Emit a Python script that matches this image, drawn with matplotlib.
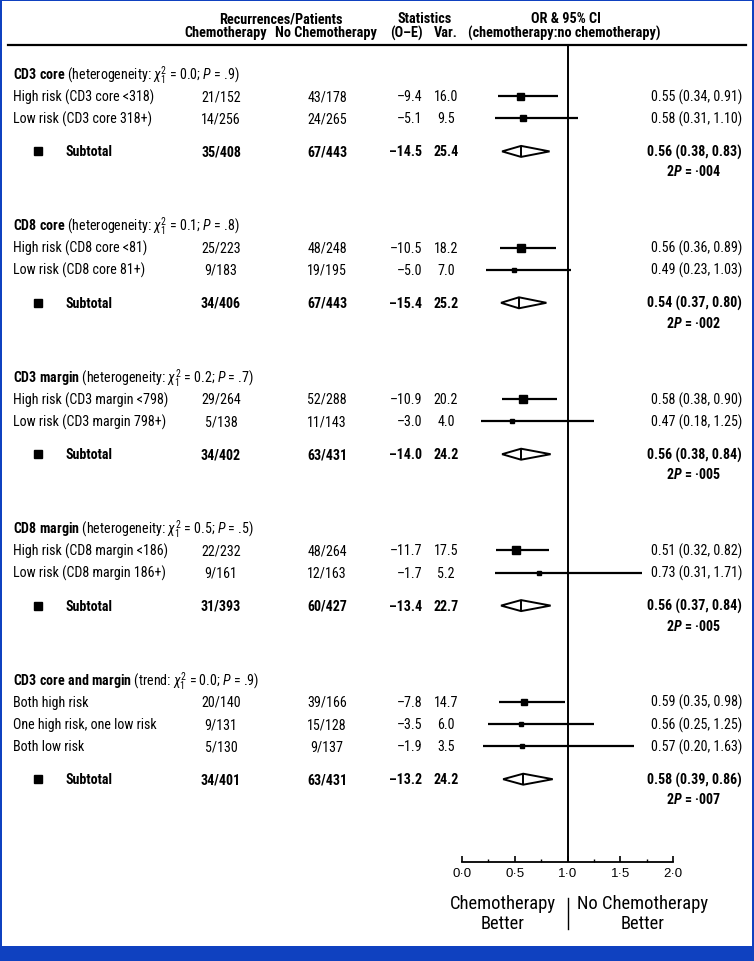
import matplotlib
matplotlib.use("Agg")
import matplotlib.pyplot as plt
from matplotlib import font_manager as fm
from matplotlib.transforms import blended_transform_factory
from matplotlib.lines import Line2D
from matplotlib.patches import Rectangle
import numpy as np

# ---------------- data ----------------
group_names = ["CD3 core", "CD8 core", "CD3 margin", "CD8 margin", "CD3 core and margin"]
group_tests = ["heterogeneity", "heterogeneity", "heterogeneity", "heterogeneity", "trend"]
group_chi2 = ["0.0", "0.1", "0.2", "0.5", "0.0"]
group_p = [".9", ".8", ".7", ".5", ".9"]

row_labels = [
    ["High risk (CD3 core <318)", "Low risk (CD3 core 318+)"],
    ["High risk (CD8 core <81)", "Low risk (CD8 core 81+)"],
    ["High risk (CD3 margin <798)", "Low risk (CD3 margin 798+)"],
    ["High risk (CD8 margin <186)", "Low risk (CD8 margin 186+)"],
    ["Both high risk", "One high risk, one low risk", "Both low risk"],
]
chemo = [["21/152", "14/256"], ["25/223", "9/183"], ["29/264", "5/138"],
         ["22/232", "9/161"], ["20/140", "9/131", "5/130"]]
nochemo = [["43/178", "24/265"], ["48/248", "19/195"], ["52/288", "11/143"],
           ["48/264", "12/163"], ["39/166", "15/128", "9/137"]]
o_e = [[-9.4, -5.1], [-10.5, -5.0], [-10.9, -3.0], [-11.7, -1.7], [-7.8, -3.5, -1.9]]
var = [[16.0, 9.5], [18.2, 7.0], [20.2, 4.0], [17.5, 5.2], [14.7, 6.0, 3.5]]
or_est = [[0.55, 0.58], [0.56, 0.49], [0.58, 0.47], [0.51, 0.73], [0.59, 0.56, 0.57]]
or_lo = [[0.34, 0.31], [0.36, 0.23], [0.38, 0.18], [0.32, 0.31], [0.35, 0.25, 0.20]]
or_hi = [[0.91, 1.10], [0.89, 1.03], [0.90, 1.25], [0.82, 1.71], [0.98, 1.25, 1.63]]

sub_chemo = ["35/408", "34/406", "34/402", "31/393", "34/401"]
sub_nochemo = ["67/443", "67/443", "63/431", "60/427", "63/431"]
sub_oe = [-14.5, -15.4, -14.0, -13.4, -13.2]
sub_var = [25.4, 25.2, 24.2, 22.7, 24.2]
sub_or = [0.56, 0.54, 0.56, 0.56, 0.58]
sub_lo = [0.38, 0.37, 0.38, 0.37, 0.39]
sub_hi = [0.83, 0.80, 0.84, 0.84, 0.86]
sub_p2 = ["·004", "·002", "·005", "·005", "·007"]

xticks = [0.0, 0.5, 1.0, 1.5, 2.0]
xticklabels = ["0·0", "0·5", "1·0", "1·5", "2·0"]

# ---------------- fonts ----------------
avail = {f.name for f in fm.fontManager.ttflist}
FONT = "DejaVu Sans"
for cand in ["Liberation Sans Narrow", "Roboto Condensed", "Liberation Sans"]:
    if cand in avail:
        FONT = cand
        break
TICKFONT = "Liberation Sans" if "Liberation Sans" in avail else FONT
plt.rcParams["font.family"] = [FONT, "DejaVu Sans"]
plt.rcParams["mathtext.fontset"] = "custom"
plt.rcParams["mathtext.rm"] = FONT
plt.rcParams["mathtext.it"] = FONT + ":italic"
plt.rcParams["mathtext.bf"] = FONT + ":bold"
if "mathtext.bfit" in plt.rcParams:
    plt.rcParams["mathtext.bfit"] = FONT + ":bold:italic"
    BFIT = True
else:
    BFIT = False

FS = 10.1
HFS = 10.3

W, H = 754, 962
fig = plt.figure(figsize=(W / 100, H / 100), dpi=100)
fig.patch.set_facecolor("white")

AX_TOP, AX_BOT = 46, 863
axf = fig.add_axes([462 / W, (H - AX_BOT) / H, 211 / W, (AX_BOT - AX_TOP) / H])
axf.set_xlim(0, 2)
axf.set_ylim(AX_BOT, AX_TOP)
axf.patch.set_alpha(0)
for s in ["top", "left", "right"]:
    axf.spines[s].set_visible(False)
axf.spines["bottom"].set_linewidth(1.3)
axf.set_yticks([])
axf.set_xticks(xticks)
axf.set_xticklabels(xticklabels)
for lab in axf.get_xticklabels():
    lab.set_fontsize(9.5)
    lab.set_family([TICKFONT, "DejaVu Sans"])
axf.set_xticks(np.arange(0.25, 2.0, 0.5), minor=True)
axf.tick_params(axis="x", which="major", direction="in", length=4.5, width=1.2, pad=3.5)
axf.tick_params(axis="x", which="minor", direction="in", length=2.5, width=1.0)
axf.axvline(1.0, color="black", lw=1.4, zorder=1)

tr = blended_transform_factory(fig.transFigure, axf.transData)


def T(px, y, s, **kw):
    kw.setdefault("fontsize", FS)
    kw.setdefault("va", "center")
    axf.text(px / W, y, s, transform=tr, clip_on=False, **kw)


# header
hy1, hy2 = 19, 33
T(281, hy1, "Recurrences/Patients", ha="center", fontweight="bold", fontsize=HFS)
T(226, hy2, "Chemotherapy", ha="center", fontweight="bold", fontsize=HFS)
T(326, hy2, "No Chemotherapy", ha="center", fontweight="bold", fontsize=HFS)
T(425, hy1, "Statistics", ha="center", fontweight="bold", fontsize=HFS)
T(423, hy2, "(O–E)", ha="right", fontweight="bold", fontsize=HFS)
T(446, hy2, "Var.", ha="center", fontweight="bold", fontsize=HFS)
T(566, hy1, "OR & 95% CI", ha="center", fontweight="bold", fontsize=HFS)
T(564, hy2, "(chemotherapy:no chemotherapy)", ha="center", fontweight="bold", fontsize=HFS)
fig.add_artist(Line2D([8 / W, 746 / W], [(H - 46) / H] * 2, color="black", lw=1.6))


def fmt(v):
    return f"{v:.1f}".replace("-", "–")


ROW = 22.2
y = 75.0
for g in range(len(group_names)):
    name = group_names[g].replace(" ", r"\ ")
    T(13, y, rf"$\mathbf{{{name}}}$ ({group_tests[g]}: $\chi^2_1$ = {group_chi2[g]}; $\mathit{{P}}$ = {group_p[g]})")
    yy = y
    for k in range(len(row_labels[g])):
        yy = yy + ROW
        T(13, yy, row_labels[g][k])
        T(221, yy, chemo[g][k], ha="center")
        T(327, yy, nochemo[g][k], ha="center")
        T(422, yy, fmt(o_e[g][k]), ha="right")
        T(446, yy, fmt(var[g][k]), ha="center")
        T(742, yy, f"{or_est[g][k]:.2f} ({or_lo[g][k]:.2f}, {or_hi[g][k]:.2f})", ha="right")
        axf.hlines(yy, or_lo[g][k], or_hi[g][k], color="black", lw=1.6, zorder=2)
        side_px = 1.75 * np.sqrt(var[g][k])
        axf.plot(or_est[g][k], yy, "s", color="black", ms=side_px * 0.72, zorder=3)
    ys = yy + 33
    axf.plot([38 / W], [ys], "s", color="black", ms=6.0, transform=tr, clip_on=False)
    T(65, ys, "Subtotal", fontweight="bold")
    T(221, ys, sub_chemo[g], ha="center", fontweight="bold")
    T(327, ys, sub_nochemo[g], ha="center", fontweight="bold")
    T(422, ys, fmt(sub_oe[g]), ha="right", fontweight="bold")
    T(446, ys, fmt(sub_var[g]), ha="center", fontweight="bold")
    T(742, ys, f"{sub_or[g]:.2f} ({sub_lo[g]:.2f}, {sub_hi[g]:.2f})", ha="right", fontweight="bold")
    ptxt = (r"2$\mathbfit{P}$" if BFIT else r"2$\mathit{P}$") + f" = {sub_p2[g]}"
    T(721, ys + 19.5, ptxt, ha="right", fontweight="bold")
    dh = 5.5
    axf.fill([sub_lo[g], sub_or[g], sub_hi[g], sub_or[g]], [ys, ys - dh, ys, ys + dh],
             facecolor="white", edgecolor="black", lw=1.4, zorder=3)
    axf.vlines(sub_or[g], ys - dh, ys + dh, color="black", lw=1.4, zorder=4)
    y = ys + 74

# bottom labels
fig.text(503 / W, 1 - 914 / H, "Chemotherapy\nBetter", ha="center", va="center",
         fontsize=13.3, linespacing=1.15)
fig.text(643 / W, 1 - 914 / H, "No Chemotherapy\nBetter", ha="center", va="center",
         fontsize=13.3, linespacing=1.15)
fig.add_artist(Line2D([568 / W] * 2, [1 - 899 / H, 1 - 930 / H], color="black", lw=1.0))

# blue frame
BLUE = "#0f41c0"
fig.add_artist(Rectangle((0, 0), 1, 15 / H, transform=fig.transFigure, color=BLUE, lw=0))
fig.add_artist(Rectangle((0, 0), 2 / W, 1, transform=fig.transFigure, color=BLUE, lw=0))
fig.add_artist(Rectangle((1 - 2 / W, 0), 2 / W, 1, transform=fig.transFigure, color=BLUE, lw=0))
fig.add_artist(Rectangle((0, 1 - 2 / H), 1, 2 / H, transform=fig.transFigure, color=BLUE, lw=0))

fig.savefig("out.png", dpi=100)
